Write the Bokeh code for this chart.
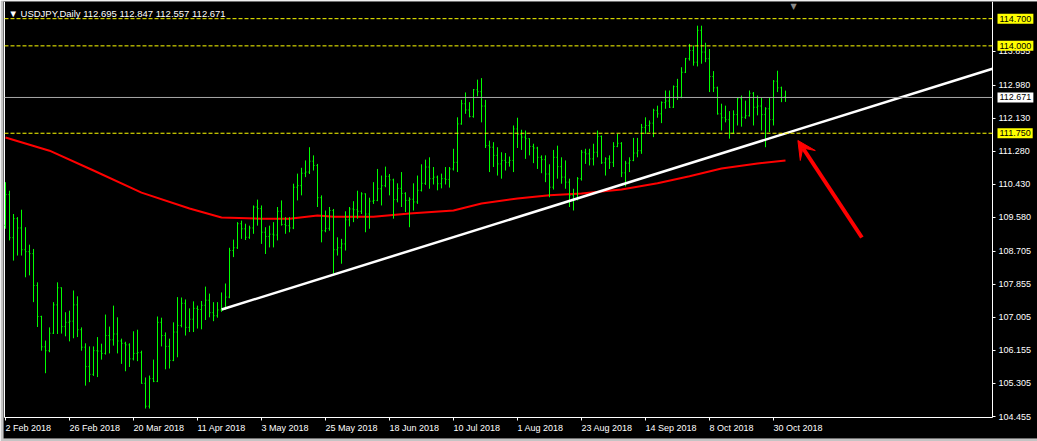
import numpy as np
from bokeh.plotting import figure
from bokeh.models import (ColumnDataSource, Label, Arrow, VeeHead, Range1d)
from bokeh.core.properties import value
from bokeh.embed import file_html
from bokeh.resources import INLINE

# ---------------- data ----------------
symbol_title = "USDJPY,Daily"
last_quote = [112.695, 112.847, 112.557, 112.671]   # O H L C of the last bar

opens = [
    109.38, 110.17, 109.06, 109.55, 109.31, 108.75, 108.70, 108.65, 107.83, 107.03,
    106.25, 106.15, 106.60, 107.33, 107.77, 106.77, 106.88, 106.91, 107.33, 106.69,
    106.24, 105.74, 105.54, 106.15, 106.14, 106.08, 106.54, 106.43, 106.58, 106.40,
    106.34, 106.30, 105.94, 106.08, 106.10, 105.31, 104.72, 105.43, 105.36, 106.88,
    106.54, 106.26, 105.90, 106.63, 106.80, 107.37, 106.75, 106.96, 107.24, 107.21,
    107.32, 107.45, 107.13, 107.05, 107.20, 107.24, 107.53, 108.73, 108.80, 109.42,
    109.29, 109.07, 109.31, 109.85, 109.81, 109.20, 109.09, 109.15, 109.13, 109.74,
    109.40, 109.37, 109.31, 110.36, 110.40, 110.72, 110.75, 111.03, 110.92, 110.09,
    109.24, 109.30, 109.76, 108.75, 108.80, 108.90, 109.52, 109.80, 109.78, 109.74,
    110.19, 109.67, 110.00, 110.02, 110.32, 110.40, 110.64, 110.55, 110.04, 110.33,
    110.20, 110.02, 110.05, 109.98, 110.28, 110.46, 110.88, 110.58, 110.62, 110.45,
    110.58, 110.56, 110.83, 111.00, 111.99, 112.51, 112.35, 112.18, 112.87, 112.82,
    112.45, 111.43, 111.39, 111.18, 110.96, 111.05, 111.00, 111.05, 111.86, 111.72,
    111.65, 111.61, 111.41, 111.37, 111.13, 111.07, 110.70, 110.36, 111.13, 110.89,
    110.62, 110.49, 110.15, 110.06, 110.58, 111.26, 111.22, 111.09, 111.26, 111.67,
    110.99, 111.09, 111.00, 111.41, 111.49, 110.73, 110.98, 111.05, 111.24, 111.30,
    111.90, 111.95, 112.01, 112.34, 112.25, 112.54, 112.58, 112.42, 112.95, 112.68,
    113.32, 113.67, 113.88, 113.58, 114.40, 113.84, 113.67, 113.21, 112.92, 112.25,
    112.15, 112.10, 111.75, 112.23, 112.64, 112.16, 112.20, 112.78, 112.42, 112.45,
    112.23, 112.38, 112.10, 113.09, 112.92, 112.695,
]
highs = [
    110.49, 110.27, 109.67, 109.59, 109.78, 109.33, 108.88, 108.77, 107.91, 107.05,
    106.41, 106.75, 107.40, 107.91, 107.78, 107.14, 107.18, 107.70, 107.55, 106.75,
    106.34, 106.26, 106.26, 106.50, 106.33, 107.08, 106.77, 107.31, 107.01, 106.46,
    106.38, 106.34, 106.65, 106.69, 106.15, 105.46, 105.51, 105.92, 107.03, 107.00,
    106.62, 106.46, 106.88, 107.53, 107.52, 107.47, 107.24, 107.42, 107.31, 107.43,
    107.80, 107.62, 107.40, 107.40, 107.65, 107.88, 108.80, 109.01, 109.46, 109.50,
    109.42, 109.37, 109.89, 110.04, 109.89, 109.33, 109.37, 109.46, 109.85, 110.02,
    109.59, 109.59, 110.45, 110.71, 110.86, 111.05, 111.39, 111.18, 110.96, 110.15,
    109.76, 109.85, 109.80, 109.07, 109.03, 109.74, 109.85, 110.00, 110.27, 110.23,
    110.20, 110.09, 110.49, 110.83, 110.66, 110.89, 110.70, 110.58, 110.46, 110.75,
    110.23, 110.10, 110.46, 110.66, 110.95, 111.07, 111.13, 110.88, 110.66, 110.71,
    110.88, 110.88, 111.35, 112.16, 112.61, 112.80, 112.55, 112.89, 113.13, 113.17,
    112.61, 111.56, 111.52, 111.39, 111.26, 111.24, 111.15, 111.95, 112.15, 111.84,
    111.82, 111.62, 111.48, 111.40, 111.18, 111.18, 110.95, 111.32, 111.43, 111.13,
    111.05, 110.58, 110.32, 110.62, 111.32, 111.35, 111.35, 111.48, 111.82, 111.69,
    111.13, 111.18, 111.52, 111.73, 111.52, 111.04, 111.13, 111.63, 111.63, 111.99,
    112.16, 112.08, 112.38, 112.46, 112.57, 112.85, 112.85, 112.98, 113.15, 113.45,
    113.69, 114.05, 114.01, 114.52, 114.52, 114.08, 113.92, 113.35, 112.95, 112.51,
    112.46, 112.32, 112.34, 112.66, 112.72, 112.59, 112.85, 112.81, 112.72, 112.66,
    112.42, 112.68, 113.12, 113.36, 112.95, 112.847,
]
lows = [
    109.29, 108.99, 108.47, 108.60, 108.60, 108.04, 108.09, 107.40, 106.76, 106.15,
    105.57, 106.11, 106.58, 106.58, 106.59, 106.52, 106.39, 106.47, 106.50, 106.15,
    105.25, 105.34, 105.50, 105.47, 105.92, 106.05, 106.08, 106.28, 106.08, 105.81,
    105.62, 105.73, 105.90, 105.88, 105.30, 104.66, 104.66, 105.34, 105.34, 106.26,
    105.67, 105.69, 105.88, 105.98, 106.75, 106.54, 106.63, 106.63, 106.72, 106.70,
    106.94, 107.01, 106.91, 107.00, 107.15, 107.20, 107.50, 108.56, 108.77, 109.03,
    109.00, 109.03, 109.16, 109.37, 108.90, 108.64, 108.81, 108.81, 108.99, 109.37,
    109.16, 109.20, 109.28, 110.02, 110.15, 110.62, 110.70, 110.79, 109.85, 108.94,
    109.20, 109.24, 108.13, 108.60, 108.39, 108.73, 109.35, 109.46, 109.55, 109.67,
    109.20, 109.29, 109.93, 110.00, 109.89, 110.36, 110.15, 109.55, 109.97, 109.85,
    109.72, 109.33, 109.76, 109.93, 110.25, 110.42, 110.32, 110.43, 110.28, 110.33,
    110.43, 110.35, 110.79, 110.75, 111.97, 112.25, 112.16, 112.15, 112.70, 112.03,
    111.37, 110.75, 110.88, 110.66, 110.58, 110.79, 110.89, 110.75, 111.37, 111.32,
    111.09, 111.18, 110.98, 110.83, 110.72, 110.49, 110.10, 110.30, 110.58, 110.45,
    110.32, 109.85, 109.76, 110.02, 110.53, 110.96, 110.92, 110.92, 111.13, 110.96,
    110.66, 110.83, 110.88, 111.39, 110.62, 110.38, 110.75, 111.03, 111.13, 111.22,
    111.73, 111.78, 111.65, 112.15, 112.01, 112.38, 112.40, 112.40, 112.61, 112.65,
    113.30, 113.62, 113.49, 113.47, 113.54, 113.58, 112.81, 112.81, 112.23, 111.82,
    112.03, 111.61, 111.74, 111.95, 111.92, 112.12, 112.18, 111.95, 112.21, 111.82,
    111.39, 111.78, 111.95, 112.81, 112.55, 112.557,
]
closes = [
    110.17, 109.06, 109.55, 109.31, 108.75, 108.70, 108.65, 107.83, 107.03, 106.25,
    106.15, 106.60, 107.33, 107.77, 106.77, 106.88, 106.91, 107.33, 106.69, 106.24,
    105.74, 105.54, 106.15, 106.14, 106.08, 106.54, 106.43, 106.58, 106.40, 106.34,
    106.30, 105.94, 106.08, 106.10, 105.31, 104.72, 105.43, 105.36, 106.88, 106.54,
    106.26, 105.90, 106.63, 106.80, 107.37, 106.75, 106.96, 107.24, 107.21, 107.32,
    107.45, 107.13, 107.05, 107.20, 107.24, 107.53, 108.73, 108.80, 109.42, 109.29,
    109.07, 109.31, 109.85, 109.81, 109.20, 109.09, 109.15, 109.13, 109.74, 109.40,
    109.37, 109.31, 110.36, 110.40, 110.72, 110.75, 111.03, 110.92, 110.09, 109.24,
    109.30, 109.76, 108.75, 108.80, 108.90, 109.52, 109.80, 109.78, 109.74, 110.19,
    109.67, 110.00, 110.02, 110.32, 110.40, 110.64, 110.55, 110.04, 110.33, 110.20,
    110.02, 110.05, 109.98, 110.28, 110.46, 110.88, 110.58, 110.62, 110.45, 110.58,
    110.56, 110.83, 111.00, 111.99, 112.51, 112.35, 112.18, 112.87, 112.82, 112.45,
    111.43, 111.39, 111.18, 110.96, 111.05, 111.00, 111.05, 111.86, 111.72, 111.65,
    111.61, 111.41, 111.37, 111.13, 111.07, 110.70, 110.36, 111.13, 110.89, 110.62,
    110.49, 110.15, 110.06, 110.58, 111.26, 111.22, 111.09, 111.26, 111.67, 110.99,
    111.09, 111.00, 111.41, 111.49, 110.73, 110.98, 111.05, 111.24, 111.30, 111.90,
    111.95, 112.01, 112.34, 112.25, 112.54, 112.58, 112.42, 112.95, 112.68, 113.32,
    113.67, 113.88, 113.58, 114.40, 113.84, 113.67, 113.21, 112.92, 112.25, 112.15,
    112.10, 111.75, 112.23, 112.64, 112.16, 112.20, 112.78, 112.42, 112.45, 112.23,
    112.38, 112.10, 113.09, 112.92, 112.67, 112.671,
]

date_tick_bars = [0, 16, 32, 48, 64, 80, 96, 112, 128, 144, 160, 176, 192]
date_tick_labels = ["2 Feb 2018", "26 Feb 2018", "20 Mar 2018", "11 Apr 2018",
                    "3 May 2018", "25 May 2018", "18 Jun 2018", "10 Jul 2018",
                    "1 Aug 2018", "23 Aug 2018", "14 Sep 2018", "8 Oct 2018",
                    "30 Oct 2018"]

price_ticks = [113.855, 112.980, 112.130, 111.280, 110.430, 109.580,
               108.705, 107.855, 107.005, 106.155, 105.305, 104.455]

# moving average (red), read at knots along the bars
ma_bars = [0, 11, 22, 34, 46, 54, 64, 71, 78, 82, 92, 101, 112, 119, 128,
           136, 144, 154, 163, 171, 179, 188, 195]
ma_values = [111.64, 111.30, 110.79, 110.22, 109.81, 109.58, 109.55, 109.55,
             109.63, 109.60, 109.60, 109.68, 109.76, 109.94, 110.07, 110.15,
             110.20, 110.30, 110.46, 110.64, 110.84, 110.97, 111.05]

# white trend line
trend_bars = [54.05, 246.75]
trend_values = [107.21, 113.41]

# horizontal levels
level_values = [114.700, 114.000, 111.750]
bid_value = 112.671

# red arrow (from -> to)
arrow_bars = [214.1, 198.1]
arrow_values = [109.065, 111.563]

# ---------------- geometry (pixels <-> data) ----------------
W, H = 1037, 441
BORDER_L, BORDER_T, BORDER_B = 3, 1, 3
BAR0_PX, PX_PER_BAR = 5.0, 4.0
REF_PRICE, REF_PX, PX_PER_PRICE = 104.455, 416.0, 38.83


def bx(px):
    return (px - BAR0_PX) / PX_PER_BAR


def py(px):
    return REF_PRICE + (REF_PX - px) / PX_PER_PRICE


X_LEFT = bx(4)       # chart frame, left
X_RIGHT = bx(992)    # chart frame, right (price scale starts here)
Y_BOTTOM = py(417)   # chart frame, bottom (time scale below)
Y_TOP = py(BORDER_T)

GREEN = "#00ff00"
FONT = "Liberation Sans"
FS = "9px"

p = figure(width=W, height=H,
           x_range=Range1d(bx(BORDER_L), bx(W)), y_range=Range1d(py(H - BORDER_B), py(BORDER_T)),
           output_backend="svg", toolbar_location=None,
           x_axis_location=None, y_axis_location=None,
           background_fill_color="black", border_fill_color="#c4c4c4",
           outline_line_color=None,
           min_border_left=BORDER_L, min_border_top=BORDER_T,
           min_border_right=0, min_border_bottom=BORDER_B)
p.grid.visible = False

# chart frame lines
p.segment(x0=[X_LEFT, X_LEFT, X_RIGHT], y0=[Y_BOTTOM, Y_BOTTOM, Y_BOTTOM],
          x1=[X_LEFT, X_RIGHT, X_RIGHT], y1=[Y_TOP, Y_BOTTOM, Y_TOP],
          line_color="white", line_width=1)

# price scale: tick marks + labels
p.segment(x0=[X_RIGHT] * len(price_ticks), y0=price_ticks,
          x1=[bx(995)] * len(price_ticks), y1=price_ticks,
          line_color="white", line_width=1)
p.text(x=[bx(998)] * len(price_ticks), y=price_ticks,
       text=[f"{t:.3f}" for t in price_ticks],
       text_align="left", text_baseline="middle", text_color="white",
       text_font=value(FONT), text_font_size=value(FS))

# time scale: tick marks + left-aligned labels
p.segment(x0=date_tick_bars, y0=[Y_BOTTOM] * len(date_tick_bars),
          x1=date_tick_bars, y1=[py(420)] * len(date_tick_bars),
          line_color="white", line_width=1)
p.text(x=date_tick_bars, y=[py(422)] * len(date_tick_bars), text=date_tick_labels,
       text_align="left", text_baseline="top", text_color="white",
       text_font=value(FONT), text_font_size=value(FS))

# moving average
p.line(ma_bars, ma_values, line_color="#ff0000", line_width=2)

# OHLC bars
idx = np.arange(len(closes))
src = ColumnDataSource(dict(
    x=idx, xl=idx - 0.25, xr=idx + 0.25,
    o=opens, h=highs, l=lows, c=closes))
p.segment(x0="x", y0="l", x1="x", y1="h", source=src, line_color=GREEN, line_width=1)
p.segment(x0="xl", y0="o", x1="x", y1="o", source=src, line_color=GREEN, line_width=1)
p.segment(x0="x", y0="c", x1="xr", y1="c", source=src, line_color=GREEN, line_width=1)

# trend line
p.line(trend_bars, trend_values, line_color="white", line_width=2.5)

# horizontal levels (dashed yellow) and bid line (grey)
n_lv = len(level_values)
p.segment(x0=[X_LEFT] * n_lv, y0=level_values, x1=[X_RIGHT] * n_lv, y1=level_values,
          line_color="#ffff00", line_dash="4 2", line_width=1)
p.segment(x0=[X_LEFT], y0=[bid_value], x1=[X_RIGHT], y1=[bid_value],
          line_color="#a8a8a8", line_width=1)

# arrow
p.add_layout(Arrow(end=VeeHead(size=18, fill_color="#ff0000", line_color="#ff0000"),
                   x_start=arrow_bars[0], y_start=arrow_values[0],
                   x_end=arrow_bars[1], y_end=arrow_values[1],
                   line_color="#ff0000", line_width=4))

# price tags on the price scale
for lv in level_values:
    p.add_layout(Label(x=bx(997), y=lv, text=f"{lv:.3f}",
                       text_align="left", text_baseline="middle",
                       text_color="black", text_font=FONT, text_font_size=FS,
                       background_fill_color="#ffff00", padding=2))
p.add_layout(Label(x=bx(997), y=bid_value, text=f"{bid_value:.3f}",
                   text_align="left", text_baseline="middle",
                   text_color="black", text_font=FONT, text_font_size=FS,
                   background_fill_color="white", padding=2))

# header text
header = "\u25BC " + symbol_title + "  " + " ".join(f"{v:.3f}" for v in last_quote)
p.add_layout(Label(x=bx(8), y=py(12.5), text=header,
                   text_align="left", text_baseline="middle", text_color="white",
                   text_font=FONT, text_font_size="9.5px"))

# chart-shift marker at the top
p.add_layout(Label(x=bx(793), y=py(5.5), text="\u25BC",
                   text_align="center", text_baseline="middle", text_color="#8c8c8c",
                   text_font="DejaVu Sans", text_font_size="8px"))

open("out.html", "w").write(file_html(p, INLINE))
